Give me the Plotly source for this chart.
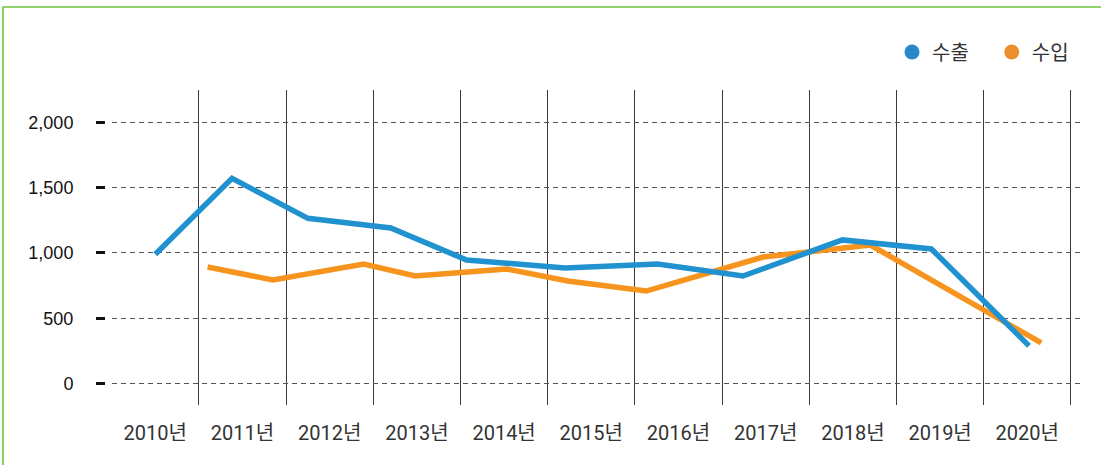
import plotly.graph_objects as go

# ---- data ----
years = list(range(2010, 2021))
year_labels = [f"{y}년" for y in years]

export_name = "수출"
import_name = "수입"

# time position (year) and value of each vertex
export_x = [2010.00, 2010.88, 2011.75, 2012.70, 2013.57, 2014.70, 2015.76, 2016.74, 2017.88, 2018.90, 2020.02]
export_y = [990, 1571, 1265, 1191, 947, 886, 916, 824, 1100, 1031, 289]

import_x = [2010.60, 2011.35, 2012.39, 2012.98, 2014.03, 2014.73, 2015.63, 2016.97, 2018.20, 2020.16]
import_y = [893, 793, 916, 824, 878, 786, 709, 969, 1061, 312]

y_ticks = [0, 500, 1000, 1500, 2000]
y_labels = ["0", "500", "1,000", "1,500", "2,000"]
band_edges = [y - 0.5 for y in years] + [years[-1] + 0.5]

BLUE = "#2192D0"
ORANGE = "#F7941D"
W, H = 1101, 465
NB = "\u00a0"

fig = go.Figure()

# lines (import first so export is drawn over it)
fig.add_trace(go.Scatter(x=import_x, y=import_y, mode="lines",
                         line=dict(color=ORANGE, width=5.5),
                         showlegend=False, hoverinfo="skip"))
fig.add_trace(go.Scatter(x=export_x, y=export_y, mode="lines",
                         line=dict(color=BLUE, width=5.5),
                         showlegend=False, hoverinfo="skip"))

# legend entries (dots)
fig.add_trace(go.Scatter(x=[None], y=[None], mode="markers", name=export_name + NB * 4,
                         marker=dict(color="#2888C8", size=15)))
fig.add_trace(go.Scatter(x=[None], y=[None], mode="markers", name=import_name,
                         marker=dict(color="#EA8E2E", size=15)))

# invisible trace to carry the detached tick axis
fig.add_trace(go.Scatter(x=export_x, y=export_y, mode="lines", yaxis="y2",
                         line=dict(width=0), opacity=0,
                         showlegend=False, hoverinfo="skip"))

x_left_px, x_right_px = 111.7, 1080
y_top_px, y_bot_px = 90, 405
yr = [-163, 2247]

fig.update_layout(
    width=W, height=H,
    margin=dict(l=0, r=0, t=0, b=0),
    paper_bgcolor="white", plot_bgcolor="white",
    font=dict(family="Roboto, 'Noto Sans CJK KR', sans-serif", color="#333"),
    xaxis=dict(
        domain=[x_left_px / W, x_right_px / W],
        range=[2009.5, 2009.5 + (x_right_px - x_left_px) / 87.2],
        tickmode="array", tickvals=years, ticktext=year_labels,
        showgrid=False, zeroline=False, showline=False, ticks="",
        tickfont=dict(size=20, color="#333",
                      family="Roboto, 'Noto Sans CJK KR', sans-serif"),
        ticklabelstandoff=14,
        minor=dict(tickmode="array", tickvals=band_edges, showgrid=True,
                   gridcolor="#3a3a3a", gridwidth=1.2, ticks=""),
    ),
    yaxis=dict(
        domain=[1 - y_bot_px / H, 1 - y_top_px / H],
        range=yr,
        tickmode="array", tickvals=y_ticks, ticktext=y_labels,
        showgrid=True, gridcolor="#555", gridwidth=1, griddash="5px,4px",
        zeroline=False, showline=False, ticks="", showticklabels=False,
    ),
    yaxis2=dict(
        overlaying="y", anchor="free", position=105 / W, side="left",
        range=yr,
        tickmode="array", tickvals=y_ticks, ticktext=y_labels,
        showgrid=False, zeroline=False, showline=False,
        ticks="outside", ticklen=9, tickwidth=3, tickcolor="#111",
        tickfont=dict(size=18, color="#111",
                      family="'Liberation Sans', Arial, sans-serif"),
        ticklabelstandoff=19,
    ),
    legend=dict(
        orientation="h", x=1074 / W, xanchor="right", y=1 - 52 / H, yanchor="middle",
        font=dict(size=20, color="#333",
                  family="'Noto Sans CJK KR', sans-serif"),
        itemwidth=30, bgcolor="rgba(0,0,0,0)",
    ),
    shapes=[dict(type="rect", xref="paper", yref="paper",
                 x0=3 / W, x1=1.02, y0=-0.02, y1=1 - 7 / H,
                 line=dict(color="#6DC43F", width=1.6), layer="below")],
)

fig.write_html("out.html", config={"displayModeBar": False},
               post_script="document.body.style.margin='0';document.body.style.overflow='hidden';")
